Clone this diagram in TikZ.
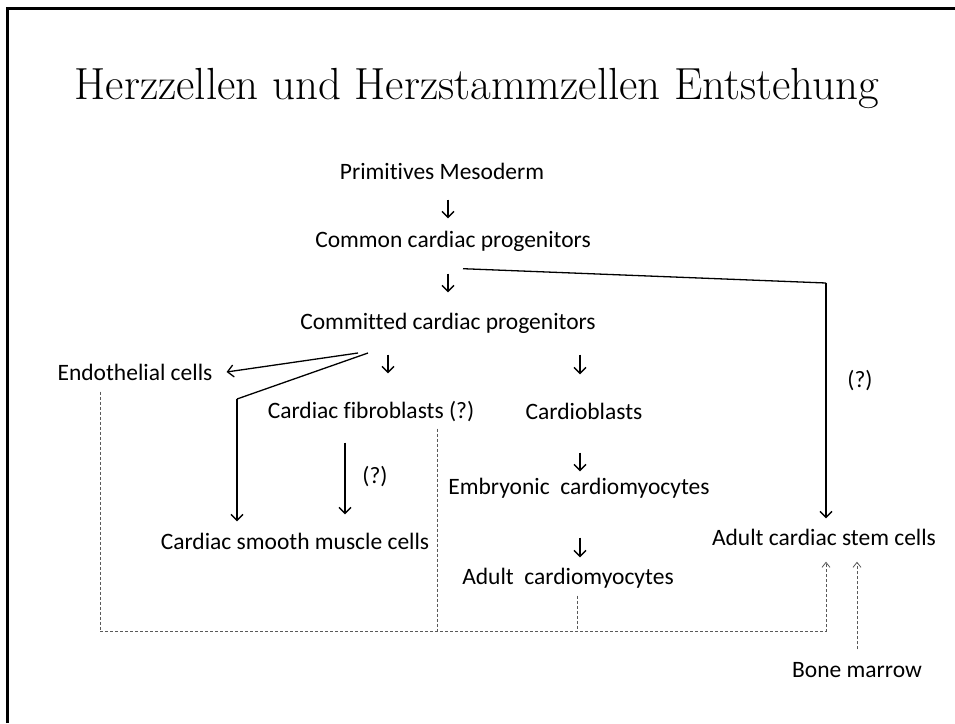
\documentclass[tikz,border=0pt]{standalone}
\usepackage{fontspec}
\newfontfamily\calibri[Ligatures=NoCommon]{Carlito}
\usetikzlibrary{arrows.meta,calc}
\newcommand{\bodysize}{\fontsize{23.5}{28}\selectfont}

\begin{document}
\begin{tikzpicture}[x=1pt,y=-1pt,
    cell/.style={font=\calibri\bodysize, inner sep=0pt, text height=16pt, text depth=1pt},
    dev/.style={line width=1.3pt, -{Straight Barb[length=6pt,width=12pt]}},
    link/.style={gray!70!black, line width=0.8pt, dash pattern=on 3pt off 2pt},
    linkarr/.style={link, -{Straight Barb[length=5pt,width=8pt]}}]
    \useasboundingbox (0,0) rectangle (955,723);
    % slide frame
    \draw[line width=3pt] (7,723) -- (7,8) -- (955,8);

    \node[font=\fontsize{45}{52}\selectfont, inner sep=0pt] (title) at (477,88) {Herzzellen und Herzstammzellen Entstehung};

    % main column
    \node[cell] (prim) at (442,172) {Primitives Mesoderm};
    \node[cell] (common) at (453,240) {Common cardiac progenitors};
    \node[cell] (committed) at (448,322) {Committed cardiac progenitors};

    % branches
    \node[cell] (endo) at (135,373) {Endothelial cells};
    \node[cell] (fibro) at (371,411) {Cardiac fibroblasts (?)};
    \node[cell] (cardiob) at (584,412) {Cardioblasts};
    \node[cell] (embryo) at (579,487) {Embryonic\ \ cardiomyocytes};
    \node[cell] (smooth) at (295,542) {Cardiac smooth muscle cells};
    \node[cell] (adultcm) at (568,577) {Adult\ \ cardiomyocytes};
    \node[cell] (stem) at (824,538) {Adult cardiac stem cells};
    \node[cell] (bone) at (857,670) {Bone marrow};
    \node[cell] (q-stem) at (860,380) {(?)};
    \node[cell] (q-smooth) at (375,476) {(?)};

    \coordinate (split) at (358,353);
    \coordinate (bend-stem) at (826,283);
    \coordinate (bend-smooth) at (237,399);
    \coordinate (base) at (100,631);

    % solid arrows
    \draw[dev] ($(prim.south)+(6,19)$) -- ($(common.north)+(-5,-13)$);
    \draw[dev] ($(common.south)+(-5,25)$) -- ($(committed.north)+(0,-21)$);
    \draw[dev] ($(committed.south)+(-60,24)$) -- ($(fibro.north)+(17,-29)$);
    \draw[dev] ($(committed.south)+(132,24)$) -- ($(cardiob.north)+(-4,-29)$);
    \draw[dev] ($(cardiob.south)+(-4,32)$) -- ($(embryo.north)+(1,-7)$);
    \draw[dev] ($(embryo.south)+(1,42)$) -- ($(adultcm.north)+(12,-11)$);
    \draw[line width=1.3pt] ($(common.south)+(10,20)$) -- (bend-stem);
    \draw[dev] (bend-stem) -- ($(stem.north -| bend-stem)+(0,-11)$);
    \draw[dev] (split) -- ($(endo.east)+(14,-1)$);
    \draw[line width=1.3pt] ($(split)+(10,0)$) -- (bend-smooth);
    \draw[dev] (bend-smooth) -- ($(smooth.north -| bend-smooth)+(0,-12)$);
    \draw[dev] ($(fibro.south)+(-26,23)$) -- ($(smooth.north)+(50,-19)$);

    % dashed links
    \draw[link] ($(endo.south -| base)+(0,10)$) -- (base);
    \draw[link] ($(fibro.south)+(66,9)$) -- (base -| 437,0);
    \draw[link] ($(adultcm.south)+(9,10)$) -- (base -| 577,0);
    \draw[linkarr] (base) -- (base -| bend-stem) -- ($(stem.south -| bend-stem)+(0,15)$);
    \draw[linkarr] ($(bone.north)+(0,-12)$) -- ($(stem.south)+(33,15)$);
\end{tikzpicture}
\end{document}
